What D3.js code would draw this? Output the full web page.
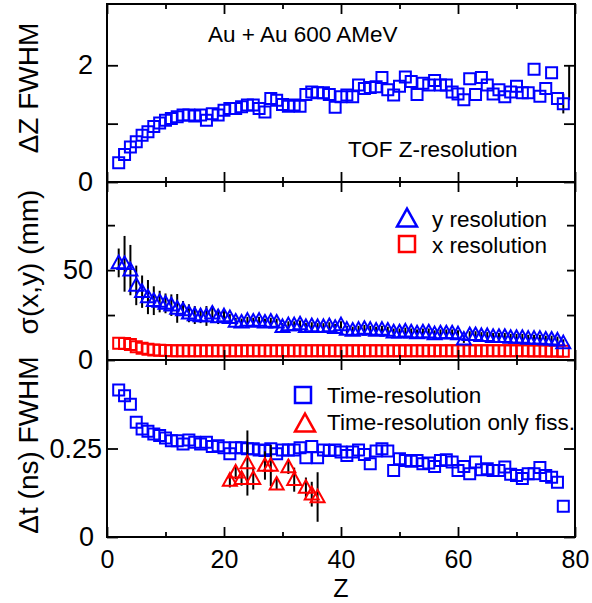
<!DOCTYPE html>
<html>
<head>
<meta charset="utf-8">
<script src="https://cdn.jsdelivr.net/npm/d3@7"></script>
<style>
body{margin:0;background:#fff;}
text{font-family:"Liberation Sans",Arial,Helvetica,sans-serif;fill:#000;}
</style>
</head>
<body>
<div id="chart"></div>
<script>
// Z of each measured point
var zList = [2,3,4,5,6,7,8,9,10,11,12,13,14,15,16,17,18,19,20,21,22,23,24,25,26,27,28,29,30,31,
	32,33,34,35,36,37,38,39,40,41,42,43,44,45,46,47,48,49,50,51,52,53,54,55,56,57,58,59,60,61,
	62,63,64,65,66,67,68,69,70,71,72,73,74,75,76,77,78];

// top panel : Delta Z FWHM
var dzFwhm = [0.33,0.47,0.60,0.69,0.80,0.86,0.95,1.01,1.06,1.09,
	1.12,1.15,1.15,1.13,1.15,1.06,1.17,1.15,1.23,1.26,
	1.26,1.29,1.32,1.32,1.26,1.20,1.43,1.40,1.33,1.30,
	1.32,1.30,1.50,1.54,1.53,1.53,1.50,1.28,1.46,1.49,
	1.46,1.66,1.60,1.62,1.63,1.79,1.58,1.49,1.64,1.80,
	1.72,1.50,1.69,1.66,1.74,1.66,1.66,1.54,1.51,1.41,
	1.77,1.50,1.79,1.66,1.51,1.58,1.46,1.54,1.64,1.53,
	1.53,1.93,1.47,1.60,1.87,1.43,1.34];
var dzBarZ = [78,79];
var dzBarVal = [1.345,1.70];
var dzBarErr = [0.17,0.30];

// middle panel : position resolution (mm)
var yResol = [54,53.5,50,41.5,38,35,33,32.5,31.5,30.5,
	28.7,27.8,26,25,24.5,24.5,26,24,24.5,23.5,
	21.5,21,22,21.5,22,21,21.5,21,18.5,19.5,
	19.5,20,18.5,19,18.5,18.5,19,18,19.5,17,
	16.5,17,17.5,17,16.5,17,16.5,15.5,15.5,16,
	15.5,15,15.5,15.5,14.5,15,15,15,14.5,11.5,
	14,14,13.5,13.5,13,13,13,12.5,12.5,12.5,
	12,12,12,11.5,11.5,11,9.5];
var yResolErr = [8,15.5,14,11,9,9.5,8,6,5.5,6,
	8,5,5,5,4,5.5,4,4,3,2,
	2,2,2,2,2,2,2,2,2,2,
	2,2,2,2,2,2,2,2,2,2,
	2,2,2,2,2,2,2,2,2,2,
	2,2,2,2,2,2,2,2,2,2,
	2,2,2,2,2,2,2,2,2,2,
	2,2,2,2,2,2,2];
var xResol = [9.3,9.2,8.6,7.4,6.6,6.0,5.6,5.4,5.3,5.2,
	5.2,5.1,5.2,5.2,5.1,5.2,5.1,5.2,5.2,5.1,
	5.2,5.2,5.1,5.2,5.2,5.1,5.2,5.2,5.1,5.2,
	5.2,5.1,5.2,5.2,5.1,5.2,5.2,5.1,5.2,5.2,
	5.1,5.2,5.2,5.1,5.2,5.2,5.1,5.2,5.2,5.1,
	5.2,5.2,5.1,5.2,5.2,5.1,5.2,5.2,5.1,5.2,
	5.2,5.1,5.2,5.2,5.1,5.2,5.2,5.1,5.2,5.1,
	5.1,5.0,5.1,5.0,5.0,5.0,4.9];

// bottom panel : time resolution (ns)
var tFwhm = [0.415,0.399,0.375,0.324,0.305,0.299,0.291,0.287,0.280,0.272,
	0.272,0.263,0.274,0.268,0.263,0.268,0.256,0.258,0.252,0.235,
	0.252,0.252,0.249,0.249,0.246,0.244,0.249,0.235,0.246,0.246,
	0.246,0.252,0.224,0.256,0.224,0.246,0.244,0.246,0.240,0.230,
	0.240,0.246,0.233,0.207,0.243,0.249,0.243,0.188,0.221,0.216,
	0.214,0.216,0.207,0.209,0.199,0.216,0.218,0.212,0.188,0.199,
	0.179,0.212,0.190,0.193,0.188,0.188,0.198,0.177,0.174,0.165,
	0.179,0.179,0.196,0.174,0.169,0.155,0.087];
var fissZ = [21,22,23,24,25,27,28,29,31,32,34,35,36];
var fissFwhm = [0.160,0.183,0.165,0.209,0.165,0.202,0.202,0.149,0.198,0.162,0.140,0.121,0.113];
var fissErr = [0.02,0.02,0.02,0.092,0.031,0.04,0.058,0.015,0.02,0.034,0.028,0.035,0.07];

var xTicks = [0,20,40,60,80];
var xMinor = [10,30,50,70];

var width = 592, height = 603;
var left = 107, right = 575;
var blue = '#0000ff', red = '#ff0000';

var svg = d3.select('#chart').append('svg')
	.attr('width',width)
	.attr('height',height);

var x = d3.scaleLinear().domain([0,80]).range([left,right]);
var y1 = d3.scaleLinear().domain([0,3.05]).range([182,4]);
var y2 = d3.scaleLinear().domain([0,99]).range([360,182]);
var y3 = d3.scaleLinear().domain([0,0.5]).range([537,360]);

function squarePath(s){
	return 'M'+(-s/2)+','+(-s/2)+'h'+s+'v'+s+'h'+(-s)+'Z';
}
function trianglePath(s){
	var h = s*0.9;
	return 'M0,'+(-h*0.58)+'L'+(s/2)+','+(h*0.42)+'L'+(-s/2)+','+(h*0.42)+'Z';
}

function errorBars(g, zs, vals, errs, yScale){
	g.append('g').selectAll('line').data(zs).join('line')
		.attr('x1',function(d){return x(d);})
		.attr('x2',function(d){return x(d);})
		.attr('y1',function(d,i){return yScale(vals[i]-errs[i]);})
		.attr('y2',function(d,i){return yScale(vals[i]+errs[i]);})
		.style('stroke','#000')
		.style('stroke-width',2);
}

function markers(g, zs, vals, yScale, shape, color, size){
	g.append('g').selectAll('path').data(zs).join('path')
		.attr('transform',function(d,i){return 'translate('+x(d)+','+yScale(vals[i])+')';})
		.attr('d',shape(size))
		.style('fill','none')
		.style('stroke',color)
		.style('stroke-width',2);
}

var plain = function(d){return String(d);};

function frame(yScale, top, bottom, yMajor, yMinor, yLen, yLen2, showX){
	var g = svg.append('g');
	// x ticks, bottom and top edges
	g.append('g').attr('class','xb').attr('transform','translate(0,'+bottom+')')
		.call(d3.axisBottom(x).tickValues(xTicks).tickSize(-10).tickPadding(31)
			.tickFormat(showX ? plain : function(){return '';}))
		.call(function(s){s.select('.domain').remove();});
	g.append('g').attr('transform','translate(0,'+bottom+')')
		.call(d3.axisBottom(x).tickValues(xMinor).tickSize(-5).tickFormat(''))
		.call(function(s){s.select('.domain').remove();});
	g.append('g').attr('transform','translate(0,'+top+')')
		.call(d3.axisBottom(x).tickValues(xTicks).tickSize(10).tickFormat(''))
		.call(function(s){s.select('.domain').remove();});
	g.append('g').attr('transform','translate(0,'+top+')')
		.call(d3.axisBottom(x).tickValues(xMinor).tickSize(5).tickFormat(''))
		.call(function(s){s.select('.domain').remove();});
	// y ticks, left and right edges
	g.append('g').attr('class','yl').attr('transform','translate('+left+',0)')
		.call(d3.axisLeft(yScale).tickValues(yMajor).tickSize(-yLen).tickPadding(14).tickFormat(plain))
		.call(function(s){s.select('.domain').remove();});
	g.append('g').attr('transform','translate('+left+',0)')
		.call(d3.axisLeft(yScale).tickValues(yMinor).tickSize(-yLen2).tickFormat(''))
		.call(function(s){s.select('.domain').remove();});
	g.append('g').attr('transform','translate('+right+',0)')
		.call(d3.axisRight(yScale).tickValues(yMajor.concat(yMinor)).tickSize(-yLen).tickFormat(''))
		.call(function(s){s.select('.domain').remove();});
	g.selectAll('.tick line').style('stroke','#000').style('stroke-width',1.8);
	g.selectAll('.tick text').style('font-size','27px').attr('fill','#000');
	if(showX){
		g.selectAll('.xb .tick text').attr('y',31).attr('dy',null).style('font-size','25px');
	}
	g.append('rect')
		.attr('x',left).attr('y',top)
		.attr('width',right-left).attr('height',bottom-top)
		.style('fill','none').style('stroke','#000').style('stroke-width',2);
	return g;
}

// ---------- panel 1
var p1 = svg.append('g');
errorBars(p1, dzBarZ, dzBarVal, dzBarErr, y1);
markers(p1, zList, dzFwhm, y1, squarePath, blue, 11);
frame(y1, 4, 182, [0,2], [1], 11, 11, false);
svg.append('text').attr('x',208).attr('y',42).style('font-size','22.5px').text('Au + Au 600 AMeV');
svg.append('text').attr('x',348).attr('y',157).style('font-size','22.5px').text('TOF Z-resolution');

// ---------- panel 2
var p2 = svg.append('g');
errorBars(p2, zList, yResol, yResolErr, y2);
markers(p2, zList, xResol, y2, squarePath, red, 11);
markers(p2, zList, yResol, y2, trianglePath, blue, 14);
frame(y2, 182, 360, [0,50], [25,75], 8, 8, false);
// legend
var leg2 = svg.append('g');
leg2.append('path').attr('transform','translate(407,219)').attr('d',trianglePath(20))
	.style('fill','none').style('stroke',blue).style('stroke-width',2.5);
leg2.append('path').attr('transform','translate(407,244)').attr('d',squarePath(16))
	.style('fill','none').style('stroke',red).style('stroke-width',2.5);
leg2.append('text').attr('x',432).attr('y',227).style('font-size','22.5px').text('y resolution');
leg2.append('text').attr('x',432).attr('y',253).style('font-size','22.5px').text('x resolution');

// ---------- panel 3
var p3 = svg.append('g');
markers(p3, zList, tFwhm, y3, squarePath, blue, 11);
errorBars(p3, fissZ, fissFwhm, fissErr, y3);
markers(p3, fissZ, fissFwhm, y3, trianglePath, red, 14);
var f3 = frame(y3, 360, 537, [0,0.25], [], 11, 11, true);
f3.selectAll('.yl .tick text').attr('x',function(d){return d===0 ? -13 : -5;});
var leg3 = svg.append('g');
leg3.append('path').attr('transform','translate(303,395)').attr('d',squarePath(16))
	.style('fill','none').style('stroke',blue).style('stroke-width',2.5);
leg3.append('path').attr('transform','translate(305,424)').attr('d',trianglePath(20))
	.style('fill','none').style('stroke',red).style('stroke-width',2.5);
leg3.append('text').attr('x',327).attr('y',403).style('font-size','22.5px').text('Time-resolution');
leg3.append('text').attr('x',327).attr('y',430).style('font-size','22.5px').text('Time-resolution only fiss.');

// ---------- axis titles
svg.append('text').attr('transform','translate(38,88) rotate(-90)')
	.attr('text-anchor','middle').style('font-size','28px').text('\u0394Z FWHM');
svg.append('text').attr('transform','translate(38,262) rotate(-90)')
	.attr('text-anchor','middle').style('font-size','28px').text('\u03c3(x,y) (mm)');
svg.append('text').attr('transform','translate(38,445) rotate(-90)')
	.attr('text-anchor','middle').style('font-size','28px').text('\u0394t (ns) FWHM');
svg.append('text').attr('x',341).attr('y',597)
	.attr('text-anchor','middle').style('font-size','25px').text('Z');
</script>
</body>
</html>
